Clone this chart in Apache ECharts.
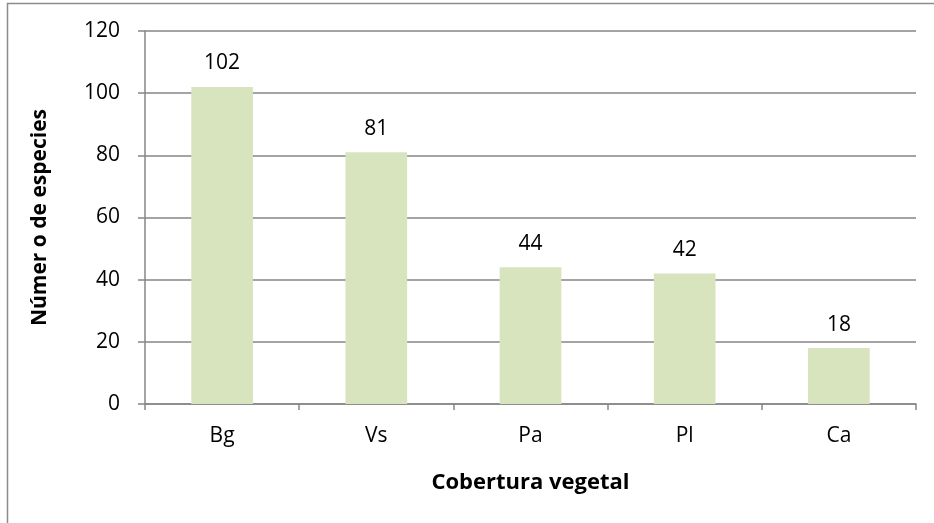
<!DOCTYPE html>
<html>
<head>
<meta charset="utf-8">
<script src="https://cdn.jsdelivr.net/npm/echarts@6/dist/echarts.min.js"></script>
<style>
  html, body { margin: 0; padding: 0; background: #fff; }
  #chart { width: 934px; height: 523px; }
</style>
</head>
<body>
<div id="chart"></div>
<script>
// Species count per vegetation cover type
const categories = ['Bg', 'Vs', 'Pa', 'Pl', 'Ca'];
const speciesCounts = [102, 81, 44, 42, 18];
const yTicks = { min: 0, max: 120, interval: 20 };

const font = '"Open Sans", "Noto Sans", sans-serif';
const axisGray = '#868686';

const chart = echarts.init(document.getElementById('chart'), null, { renderer: 'canvas' });
chart.setOption({
  animation: false,
  backgroundColor: '#fff',
  textStyle: { fontFamily: font },
  graphic: [{
    type: 'polyline',
    shape: { points: [[7.5, 523], [7.5, 3.5], [934, 3.5]] },
    style: { stroke: '#8c8c8c', lineWidth: 1.5, fill: null }
  }],
  grid: { left: 145, right: 18, top: 31, bottom: 119 },
  xAxis: {
    type: 'category',
    data: categories,
    name: 'Cobertura vegetal',
    nameLocation: 'middle',
    nameGap: 68,
    nameTextStyle: { fontSize: 22, fontWeight: 'bold', color: '#000', fontFamily: font },
    axisLine: { lineStyle: { color: axisGray, width: 1.5 } },
    axisTick: { show: true, length: 6, lineStyle: { color: axisGray, width: 1.5 }, alignWithLabel: false },
    axisLabel: { fontSize: 21, color: '#000', margin: 22, fontFamily: font }
  },
  yAxis: {
    type: 'value',
    min: yTicks.min,
    max: yTicks.max,
    interval: yTicks.interval,
    name: 'Númer o de especies',
    nameLocation: 'middle',
    nameGap: 94,
    nameTextStyle: { fontSize: 21, fontWeight: 'bold', color: '#000', fontFamily: font },
    axisLine: { show: true, lineStyle: { color: axisGray, width: 1.5 } },
    axisTick: { show: true, length: 7, lineStyle: { color: axisGray, width: 1.5 } },
    axisLabel: { fontSize: 21, color: '#000', margin: 25, fontFamily: font },
    splitLine: { lineStyle: { color: axisGray, width: 1.5 } }
  },
  series: [{
    type: 'bar',
    data: speciesCounts,
    barWidth: '40%',
    itemStyle: { color: '#d7e4bd' },
    label: {
      show: true,
      position: 'top',
      distance: 13,
      fontSize: 21,
      color: '#000',
      fontFamily: font
    }
  }]
});
</script>
</body>
</html>
